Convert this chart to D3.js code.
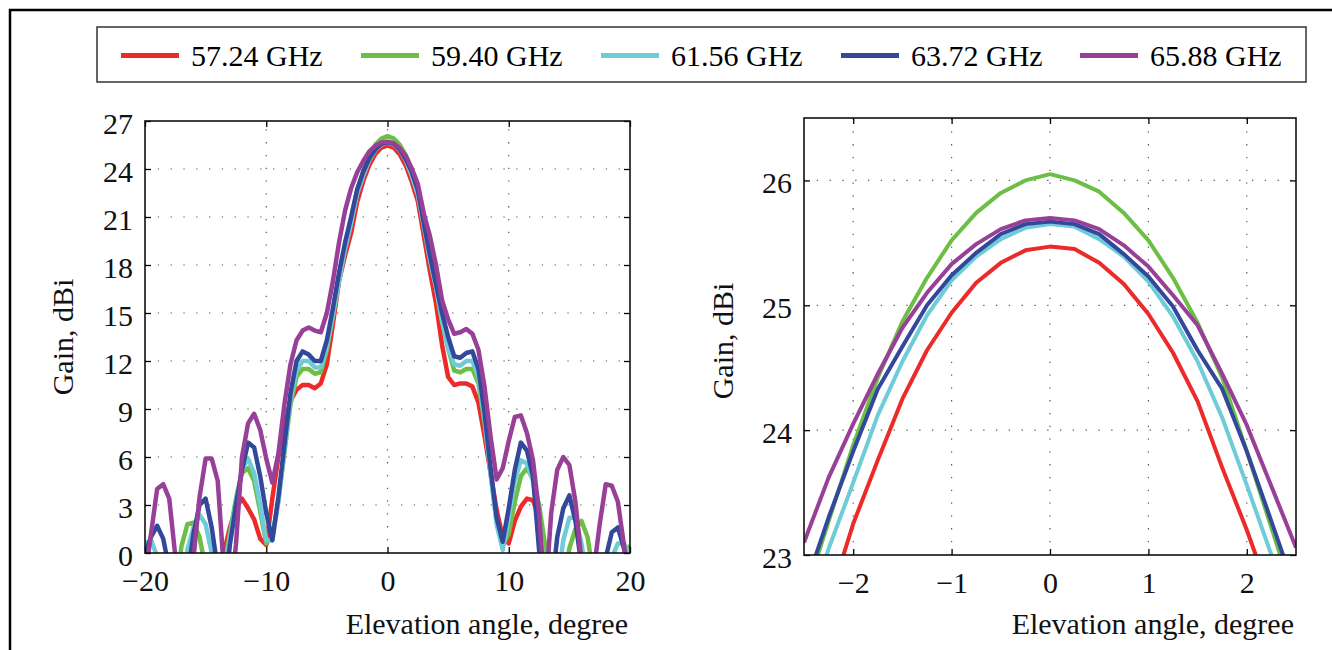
<!DOCTYPE html>
<html>
<head>
<meta charset="utf-8">
<script src="https://cdn.jsdelivr.net/npm/d3@7"></script>
<style>
body { margin: 0; background: #fff; }
svg { display: block; }
svg text { font-family: "Liberation Serif", "Times New Roman", serif; }
</style>
</head>
<body>
<svg id="chart" width="1332" height="650"></svg>
<script>
// ---- data ----
const freqLabels = ["57.24 GHz", "59.40 GHz", "61.56 GHz", "63.72 GHz", "65.88 GHz"];

// wide view, -20..20 deg
const wideAngle = [-20, -19.5, -19, -18.5, -18, -17.5, -17, -16.5, -16, -15.5, -15, -14.5, -14, -13.5,
    -13, -12.5, -12, -11.5, -11, -10.5, -10, -9.5, -9, -8.5, -8, -7.5, -7, -6.5, -6, -5.5, -5, -4.5, -4, -3.5, -3, -2.5, -2, -1.5, -1, -0.5, 0,
    0.5, 1, 1.5, 2, 2.5, 3, 3.5, 4, 4.5, 5, 5.5, 6, 6.5, 7, 7.5, 8, 8.5, 9, 9.5, 10, 10.5, 11, 11.5, 12, 12.5, 13, 13.5, 14, 14.5, 15, 15.5, 16, 16.5, 17, 17.5, 18, 18.5, 19, 19.5, 20];

const wide5724 = [-4, -4, -4, -4, -4, -4, -4, -4, -4, -4, -4, -4, -3, 0.0,
    1.6, 2.8, 3.4, 2.8, 2.1, 0.9, 0.5, 3.4, 6.0, 8.0, 9.5, 10.2, 10.5, 10.5, 10.3, 10.6, 11.8, 14.3, 17.0, 18.6, 20.0, 21.95, 23.25, 24.25, 24.94, 25.34, 25.47,
    25.34, 24.93, 24.23, 23.2, 22.0, 19.8, 17.6, 15.6, 13.0, 11.0, 10.5, 10.6, 10.6, 10.4, 9.4, 7.3, 5.0, 2.7, 1.0, 0.6, 2.0, 2.9, 3.4, 3.3, 2.2, 0.3, -3, -4, -4, -4, -4, -4, -4, -4, -4, -4, -4, -4, -4, -4];

const wide5940 = [-4, -4, -4, -4, -4, -3, 0.4, 1.8, 1.9, 1.0, -1.0, -4, -4, -1.0,
    1.2, 3.4, 5.0, 5.3, 4.5, 2.6, 0.6, 1.0, 3.3, 6.3, 9.3, 11.0, 11.5, 11.5, 11.2, 11.3, 12.7, 14.8, 17.0, 19.2, 20.9, 22.65, 23.88, 24.87, 25.52, 25.9, 26.05,
    25.91, 25.52, 24.86, 23.83, 22.6, 20.7, 18.5, 16.6, 14.5, 12.8, 11.4, 11.3, 11.5, 11.5, 10.6, 8.2, 5.0, 2.0, 0.5, 1.2, 3.2, 4.8, 5.3, 4.6, 3.0, 0.5, -2.5, -4, -2, 0.3, 1.5, 2.0, 1.0, -1.5, -4, -4, -4, -3, -0.8, 0.5];

const wide6156 = [0.6, 0.8, -0.2, -3, -4, -4, -3, 0.2, 1.6, 2.4, 1.8, 0.0, -4, -1.5,
    1.0, 3.2, 5.2, 5.9, 5.0, 3.0, 0.8, 0.8, 3.2, 6.4, 9.6, 11.4, 12.0, 12.0, 11.6, 11.6, 12.9, 14.9, 17.0, 19.0, 20.6, 22.45, 23.58, 24.55, 25.2, 25.53, 25.65,
    25.53, 25.19, 24.55, 23.56, 22.4, 20.4, 18.3, 16.6, 14.5, 12.8, 11.8, 11.7, 12.0, 12.0, 11.0, 8.4, 5.0, 1.8, 0.2, 2.2, 4.5, 5.8, 5.6, 4.5, 2.0, -1.5, -4, -2, 0.8, 2.2, 2.2, 0.6, -2, -4, -4, -3, -0.3, 0.6, 0.6, -0.3];

const wide6372 = [0.0, 1.0, 1.7, 0.9, -1.0, -3, -4, -1.5, 1.2, 3.0, 3.4, 1.6, -1.0, -3,
    0.5, 3.0, 5.2, 6.9, 6.6, 4.8, 2.5, 0.8, 3.5, 6.8, 10.0, 12.0, 12.6, 12.4, 12.0, 12.0, 13.3, 15.3, 17.5, 19.4, 21.0, 22.72, 23.83, 24.67, 25.24, 25.57, 25.67,
    25.57, 25.23, 24.64, 23.83, 22.7, 20.6, 18.6, 16.8, 15.0, 13.5, 12.3, 12.2, 12.5, 12.6, 11.5, 8.8, 5.3, 2.2, 0.7, 2.8, 5.2, 6.9, 6.4, 4.8, 0.2, -3, -2.5, 1.0, 2.8, 3.6, 2.0, -0.8, -3.5, -4, -3, -0.3, 1.3, 1.6, 0.3, -1.5];

const wide6588 = [-1.5, 1.2, 4.0, 4.3, 3.4, -0.2, -4, -4, -0.3, 3.5, 5.9, 5.9, 4.5, -1.0,
    -3, 0.5, 6.0, 8.1, 8.7, 7.7, 5.9, 4.4, 6.2, 9.3, 11.8, 13.3, 13.9, 14.1, 13.9, 13.8, 15.0, 17.0, 19.4, 21.4, 22.8, 23.8, 24.5, 25.1, 25.45, 25.65, 25.7,
    25.61, 25.31, 24.84, 24.04, 23.06, 21.2, 19.8, 18.0, 15.8, 14.6, 13.7, 13.8, 14.0, 13.7, 12.7, 10.4, 7.3, 4.6, 5.3, 7.0, 8.5, 8.6, 7.5, 5.8, 2.5, -3, 2.5, 5.2, 6.0, 5.5, 3.2, -0.5, -4, -1.2, 1.8, 4.3, 4.2, 3.2, 0.5, -2];

// zoomed view of the main beam, -2.5..2.5 deg
const zoomAngle = [-2.5, -2.25, -2, -1.75, -1.5, -1.25, -1, -0.75, -0.5, -0.25, 0, 0.25, 0.5, 0.75, 1, 1.25, 1.5, 1.75, 2, 2.25, 2.5];
const zoom5724 = [21.95, 22.62, 23.25, 23.76, 24.25, 24.64, 24.94, 25.18, 25.34, 25.44, 25.47, 25.45, 25.34, 25.17, 24.93, 24.62, 24.23, 23.7, 23.2, 22.65, 22.0];
const zoom5940 = [22.65, 23.27, 23.88, 24.42, 24.87, 25.22, 25.52, 25.74, 25.9, 26.0, 26.05, 26.0, 25.91, 25.74, 25.52, 25.22, 24.86, 24.42, 23.83, 23.22, 22.6];
const zoom6156 = [22.45, 23.05, 23.58, 24.12, 24.55, 24.92, 25.2, 25.39, 25.53, 25.62, 25.65, 25.63, 25.53, 25.39, 25.19, 24.91, 24.55, 24.1, 23.56, 23.0, 22.4];
const zoom6372 = [22.72, 23.3, 23.83, 24.33, 24.67, 25.0, 25.24, 25.42, 25.57, 25.65, 25.67, 25.65, 25.57, 25.41, 25.23, 24.99, 24.64, 24.33, 23.83, 23.27, 22.7];
const zoom6588 = [23.1, 23.62, 24.05, 24.45, 24.82, 25.1, 25.33, 25.49, 25.61, 25.68, 25.7, 25.68, 25.61, 25.48, 25.31, 25.08, 24.84, 24.45, 24.04, 23.55, 23.06];

const wideTicksX = [-20, -10, 0, 10, 20];
const wideTicksY = [0, 3, 6, 9, 12, 15, 18, 21, 24, 27];
const zoomTicksX = [-2, -1, 0, 1, 2];
const zoomTicksY = [23, 24, 25, 26];

// ---- styles ----
const colors = ["#ED2A2A", "#6CBE45", "#6ECCD8", "#33479B", "#983F98"];
const fontSize = 30;
const serif = '"Liberation Serif", "Times New Roman", serif';

const svg = d3.select("#chart");

// outer frame
svg.append("rect")
    .attr("x", 10).attr("y", 10)
    .attr("width", 1400).attr("height", 700)
    .attr("fill", "none")
    .attr("stroke", "#000")
    .attr("stroke-width", 2.5);

// ---- legend ----
let legend = svg.append("g").attr("class", "legend");
legend.append("rect")
    .attr("x", 97).attr("y", 27)
    .attr("width", 1209).attr("height", 55)
    .attr("fill", "#fff")
    .attr("stroke", "#333")
    .attr("stroke-width", 1.5);

const legendX = [121, 361, 601, 841, 1080];
freqLabels.forEach((lab, i) => {
    legend.append("line")
        .attr("x1", legendX[i]).attr("x2", legendX[i] + 58)
        .attr("y1", 55.5).attr("y2", 55.5)
        .attr("stroke", colors[i])
        .attr("stroke-width", 5);
    legend.append("text")
        .attr("x", legendX[i] + 70)
        .attr("y", 66)
        .attr("font-size", fontSize)
        .style("font-family", serif)
        .text(lab);
});

// ---- panels ----
function drawPanel(p) {
    let x = d3.scaleLinear().domain(p.xDomain).range([p.left, p.right]);
    let y = d3.scaleLinear().domain(p.yDomain).range([p.bottom, p.top]);
    let g = svg.append("g").attr("class", p.id);

    // dotted grid
    let grid = g.append("g").attr("class", "grid")
        .attr("stroke", "#555")
        .attr("stroke-width", 1.2)
        .attr("stroke-dasharray", "1.3,11.5");
    grid.selectAll("line.vg")
        .data(p.xGrid).enter()
        .append("line")
        .attr("class", "vg")
        .attr("x1", d => x(d)).attr("x2", d => x(d))
        .attr("y1", p.bottom).attr("y2", p.top);
    grid.selectAll("line.hg")
        .data(p.yGrid).enter()
        .append("line")
        .attr("class", "hg")
        .attr("x1", p.left).attr("x2", p.right)
        .attr("y1", d => y(d)).attr("y2", d => y(d));

    // curves
    g.append("clipPath").attr("id", "clip-" + p.id)
        .append("rect")
        .attr("x", p.left).attr("y", p.top)
        .attr("width", p.right - p.left).attr("height", p.bottom - p.top);

    let line = d3.line()
        .x(d => x(d[0]))
        .y(d => y(d[1]));

    g.append("g").attr("clip-path", `url(#clip-${p.id})`)
        .selectAll("path")
        .data(p.series).enter()
        .append("path")
        .attr("d", s => line(p.angles.map((a, i) => [a, s[i]])))
        .attr("fill", "none")
        .attr("stroke", (s, i) => colors[i])
        .attr("stroke-width", p.lineWidth)
        .attr("stroke-linejoin", "round");

    // axes, ticks pointing inwards on all four sides
    let fmt = d3.format("d");
    let bottom = g.append("g")
        .attr("transform", `translate(0,${p.bottom})`)
        .call(d3.axisBottom(x).tickValues(p.xTicks).tickFormat(fmt).tickSizeInner(-6).tickSizeOuter(0).tickPadding(17));
    let left = g.append("g")
        .attr("transform", `translate(${p.left},0)`)
        .call(d3.axisLeft(y).tickValues(p.yTicks).tickFormat(fmt).tickSizeInner(-6).tickSizeOuter(0).tickPadding(12));
    g.append("g")
        .attr("transform", `translate(0,${p.top})`)
        .call(d3.axisTop(x).tickValues(p.xTicks).tickFormat("").tickSizeInner(-6).tickSizeOuter(0));
    g.append("g")
        .attr("transform", `translate(${p.right},0)`)
        .call(d3.axisRight(y).tickValues(p.yTicks).tickFormat("").tickSizeInner(-6).tickSizeOuter(0));

    g.selectAll(".domain").remove();
    g.selectAll(".tick line").attr("stroke-width", 1.3);
    [bottom, left].forEach(a => a.attr("font-size", fontSize)
        .selectAll("text")
        .attr("fill", "#111")
        .style("font-family", serif));
    left.selectAll("text").attr("dy", "0.4em");

    g.append("rect")
        .attr("x", p.left).attr("y", p.top)
        .attr("width", p.right - p.left).attr("height", p.bottom - p.top)
        .attr("fill", "none")
        .attr("stroke", "#111")
        .attr("stroke-width", 1.6);

    // titles
    g.append("text")
        .attr("x", p.right - 2).attr("y", 634)
        .attr("text-anchor", "end")
        .attr("font-size", fontSize)
        .attr("fill", "#111")
        .style("font-family", serif)
        .text("Elevation angle, degree");
    g.append("text")
        .attr("transform", `translate(${p.yTitleX},${p.yTitleY}) rotate(-90)`)
        .attr("text-anchor", "middle")
        .attr("dy", "0.35em")
        .attr("font-size", fontSize)
        .attr("fill", "#111")
        .style("font-family", serif)
        .text("Gain, dBi");
}

drawPanel({
    id: "wide",
    left: 145, right: 630, top: 121, bottom: 553,
    xDomain: [-20, 20], yDomain: [0, 27],
    xTicks: wideTicksX, yTicks: wideTicksY,
    xGrid: [-10, 0, 10], yGrid: [3, 6, 9, 12, 15, 18, 21, 24],
    angles: wideAngle,
    series: [wide5724, wide5940, wide6156, wide6372, wide6588],
    lineWidth: 4.5,
    yTitleX: 62, yTitleY: 337
});

drawPanel({
    id: "zoom",
    left: 804, right: 1296, top: 118, bottom: 555,
    xDomain: [-2.5, 2.5], yDomain: [23, 26.5],
    xTicks: zoomTicksX, yTicks: zoomTicksY,
    xGrid: [-2, -1, 0, 1, 2], yGrid: [24, 25, 26],
    angles: zoomAngle,
    series: [zoom5724, zoom5940, zoom6156, zoom6372, zoom6588],
    lineWidth: 4,
    yTitleX: 722, yTitleY: 341
});
</script>
</body>
</html>
